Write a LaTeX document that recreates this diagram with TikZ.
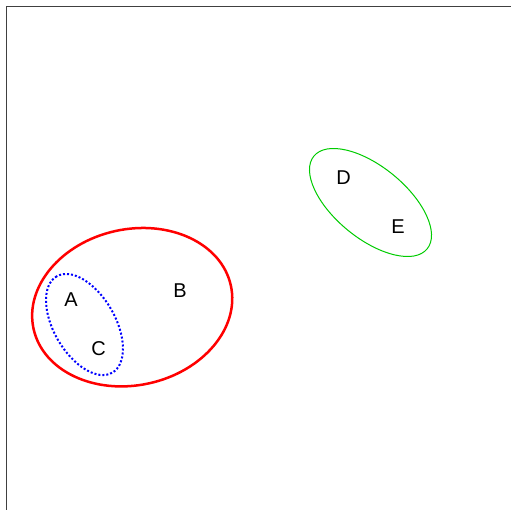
\documentclass[tikz,border=0pt]{standalone}
\usepackage{fontspec}
\setmainfont{Liberation Sans}
\begin{document}
\begin{tikzpicture}[x=1pt,y=1pt,
  lbl/.style={inner sep=0pt,anchor=center,font=\fontsize{20}{23}\selectfont},
  frameline/.style={draw=black!75,line width=1.8pt},
  setred/.style={draw=red,line width=2.5pt},
  setblue/.style={draw=blue,line width=2pt,dash pattern=on 2pt off 2pt},
  setgreen/.style={draw=green!80!black,line width=1pt}]
\useasboundingbox (0,0) rectangle (511,-510);
\path[fill=white] (0,0) rectangle (511,-510);
\coordinate (fbl) at (6.5,-512);
\coordinate (ftl) at (6.5,-6.5);
\coordinate (ftr) at (513,-6.5);
\draw[frameline] (fbl) -- (ftl) -- (ftr);
\draw[setred,shift={(132.2,-307.2)},rotate=12.4] (0,0) ellipse [x radius=101,y radius=78];
\draw[setblue,shift={(84.5,-324.5)},rotate=120] (0,0) ellipse [x radius=55.6,y radius=30.7];
\draw[setgreen,shift={(370.5,-202.5)},rotate=-39.3] (0,0) ellipse [x radius=73.2,y radius=35.8];
\node[lbl] (A) at (71,-300) {A};
\node[lbl] (B) at (180,-290.5) {B};
\node[lbl] (C) at (98.5,-349) {C};
\node[lbl] (D) at (343.5,-178) {D};
\node[lbl] (E) at (398,-226.7) {E};
\end{tikzpicture}
\end{document}
